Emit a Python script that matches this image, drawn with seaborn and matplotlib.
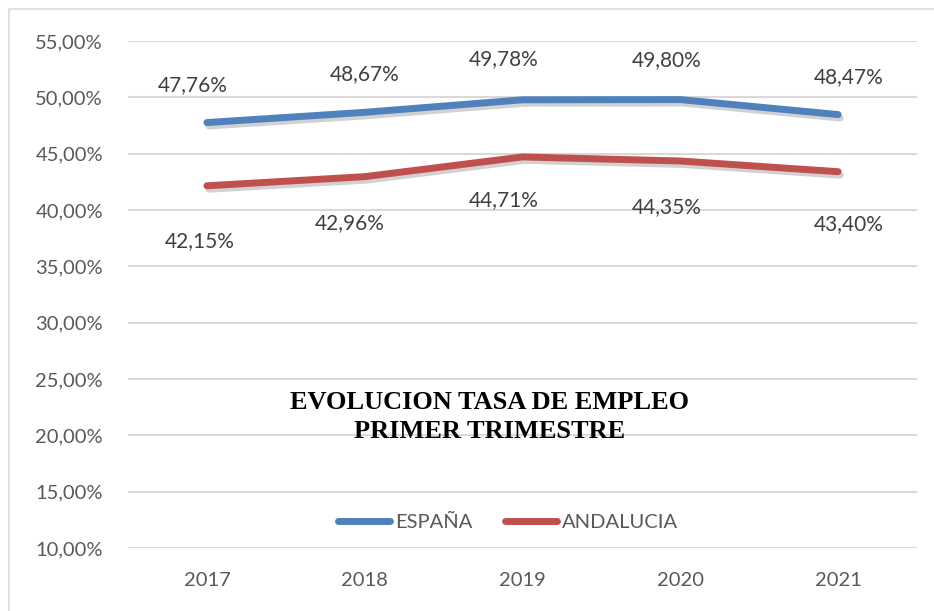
import numpy as np
import pandas as pd
import matplotlib
matplotlib.use("Agg")
import matplotlib.pyplot as plt
import matplotlib.patheffects as pe
from matplotlib.patches import Rectangle
from matplotlib.ticker import FuncFormatter
import seaborn as sns

years = ["2017", "2018", "2019", "2020", "2021"]
espana = [47.76, 48.67, 49.78, 49.80, 48.47]
andalucia = [42.15, 42.96, 44.71, 44.35, 43.40]
series_names = ["ESPAÑA", "ANDALUCIA"]
title_lines = ["EVOLUCION TASA DE EMPLEO", "PRIMER TRIMESTRE"]

df = pd.DataFrame({
    "year": years * 2,
    "value": espana + andalucia,
    "serie": [series_names[0]] * len(years) + [series_names[1]] * len(years),
})

sns.set_style("white")
plt.rcParams["font.family"] = ["Lato", "DejaVu Sans"]

fig = plt.figure(figsize=(9.34, 6.11), dpi=100)
ax = fig.add_axes([128 / 934, 1 - 548 / 611, (917 - 128) / 934, (548 - 41) / 611])

palette = {"ESPAÑA": "#4F81BD", "ANDALUCIA": "#C0504D"}
sns.lineplot(data=df, x="year", y="value", hue="serie", palette=palette,
             linewidth=5, ax=ax, sort=False, legend=True)

ax.set_xlim(-0.5, len(years) - 0.5)
ax.set_ylim(10, 55)
ax.set_yticks(np.arange(10, 56, 5))
ax.yaxis.set_major_formatter(FuncFormatter(lambda v, p: f"{v:.2f}%".replace(".", ",")))
ax.grid(axis="y", color="#D9D9D9", linewidth=1.5)
ax.grid(axis="x", visible=False)
for s in ax.spines.values():
    s.set_visible(False)
ax.tick_params(axis="both", length=0, labelsize=14.5, labelcolor="#595959")
ax.tick_params(axis="y", pad=18)
ax.tick_params(axis="x", pad=17)
ax.set_xlabel("")
ax.set_ylabel("")

# data labels (pixel offsets from each point)
esp_off = [(-14, 37), (0, 38), (-19, 41), (-14, 39), (11, 37)]
and_off = [(-7, -55), (-15, -46), (-19, -43), (-14, -46), (11, -52)]
for i, (v, o) in enumerate(zip(espana, esp_off)):
    ax.annotate(f"{v:.2f}%".replace(".", ","), (i, v), xytext=o, textcoords="offset pixels",
                ha="center", va="center", fontsize=15, color="#404040")
for i, (v, o) in enumerate(zip(andalucia, and_off)):
    ax.annotate(f"{v:.2f}%".replace(".", ","), (i, v), xytext=o, textcoords="offset pixels",
                ha="center", va="center", fontsize=15, color="#404040")

ax.text(0.458, (548 - 417) / 507, "\n".join(title_lines), transform=ax.transAxes,
        ha="center", va="center", fontsize=19, fontweight="bold", color="black",
        family=["Liberation Serif"], linespacing=1.28)

leg = ax.legend(loc="center", bbox_to_anchor=(0.482, (548 - 522) / 507), ncol=2, frameon=False,
                fontsize=14.5, handlelength=2.6, handletextpad=0.25, columnspacing=1.6)
for t in leg.get_texts():
    t.set_color("#595959")
for h in leg.legend_handles:
    h.set_linewidth(5)
    h.set_solid_capstyle("round")

# soft shadow under the data lines only
shadow = [pe.SimpleLineShadow(offset=(1.5, -2.5), alpha=0.18, shadow_color="black"), pe.Normal()]
for line in ax.lines:
    line.set_solid_capstyle("round")
    line.set_path_effects(shadow)

fig.patches.append(Rectangle((9 / 934, -0.05), 1.2, 1.05 - 9 / 611, transform=fig.transFigure,
                             fill=False, edgecolor="#D9D9D9", linewidth=1.2))

fig.savefig("out.png", dpi=100)
